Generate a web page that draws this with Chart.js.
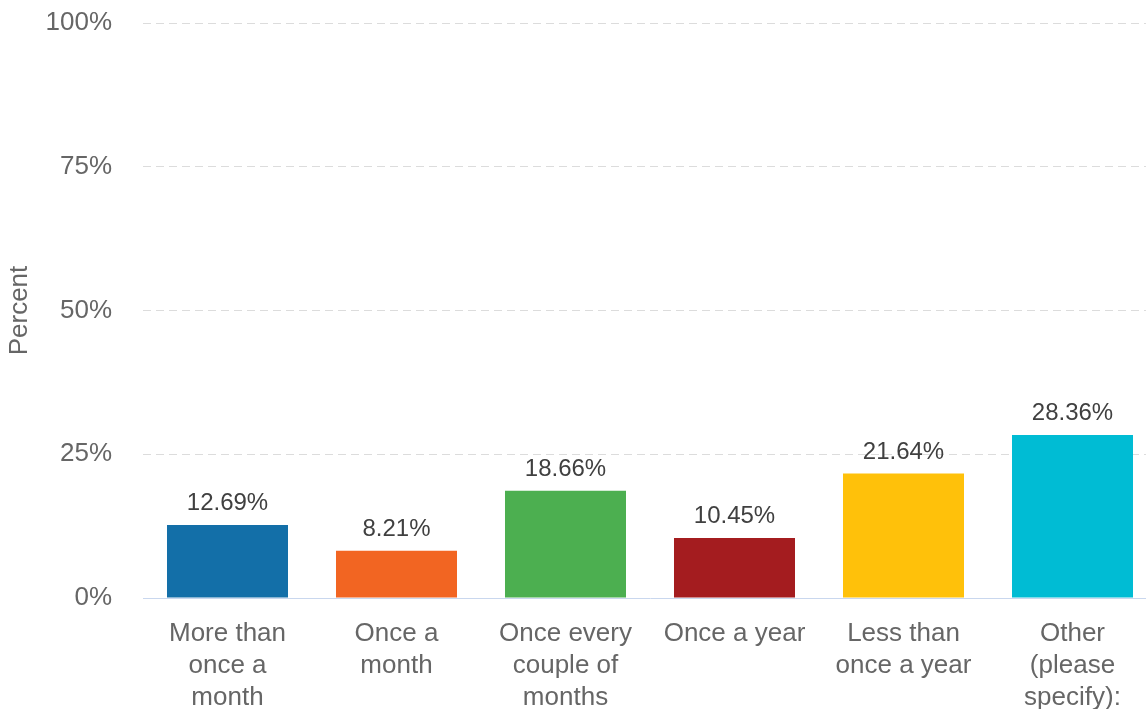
<!DOCTYPE html>
<html>
<head>
<meta charset="utf-8">
<script src="https://cdn.jsdelivr.net/npm/chart.js@4/dist/chart.umd.min.js"></script>
<style>
  html, body { margin: 0; padding: 0; background: #fff; overflow: hidden; }
  #wrap { width: 1146px; height: 709px; overflow: hidden; }
</style>
</head>
<body>
<div id="wrap"><canvas id="barChart" width="1157" height="709"></canvas></div>
<script>
// data
var categories = [
  ["More than", "once a", "month"],
  ["Once a", "month"],
  ["Once every", "couple of", "months"],
  ["Once a year"],
  ["Less than", "once a year"],
  ["Other", "(please", "specify):"]
];
var percents = [12.69, 8.21, 18.66, 10.45, 21.64, 28.36];
var yTicks = [0, 25, 50, 75, 100];

var barColors = ["#136fa8", "#f26522", "#4caf50", "#a41c1f", "#ffc10a", "#00bcd4"];
var fontFamily = "'Liberation Sans', Arial, sans-serif";

// value labels above bars
var valueLabels = {
  id: "valueLabels",
  afterDatasetsDraw: function (chart) {
    var ctx = chart.ctx;
    ctx.save();
    ctx.font = "24px " + fontFamily;
    ctx.fillStyle = "#404040";
    ctx.textAlign = "center";
    ctx.textBaseline = "alphabetic";
    chart.getDatasetMeta(0).data.forEach(function (bar, i) {
      ctx.fillText(percents[i].toFixed(2) + "%", bar.x, bar.y - 15);
    });
    ctx.restore();
  }
};

var ctx = document.getElementById("barChart");

var BarChart = new Chart(ctx, {
  type: "bar",
  data: {
    labels: categories,
    datasets: [
      {
        label: "Percent",
        data: percents,
        backgroundColor: barColors,
        barPercentage: 0.716,
        categoryPercentage: 1.0
      }
    ]
  },
  options: {
    responsive: false,
    animation: false,
    layout: { padding: { top: 23, left: 4, right: 0, bottom: 0 } },
    plugins: {
      legend: { display: false },
      tooltip: { enabled: false }
    },
    scales: {
      x: {
        grid: { display: false, drawTicks: false },
        border: { display: true, color: "#c9d7ee", width: 1 },
        ticks: {
          color: "#666",
          font: { family: fontFamily, size: 26, lineHeight: 1.23 },
          padding: 20,
          maxRotation: 0,
          autoSkip: false
        },
        afterFit: function (scale) {
          scale.height = 111;
          scale.paddingLeft = 0;
          scale.paddingRight = 0;
        }
      },
      y: {
        min: 0,
        max: 100,
        afterBuildTicks: function (scale) {
          scale.ticks = yTicks.map(function (v) { return { value: v }; });
        },
        grid: {
          drawTicks: false,
          color: function (c) { return c.tick && c.tick.value === 0 ? "rgba(0,0,0,0)" : "#dcdcdc"; },
          lineWidth: 1
        },
        border: { display: false, dash: [8, 5] },
        ticks: {
          color: "#666",
          font: { family: fontFamily, size: 26 },
          padding: 31,
          callback: function (v) { return v + "%"; }
        },
        title: {
          display: true,
          text: "Percent",
          color: "#666",
          font: { family: fontFamily, size: 26 },
          padding: 0
        },
        afterFit: function (scale) {
          scale.width = 139;
          scale.paddingTop = 0;
          scale.paddingBottom = 0;
        }
      }
    }
  },
  plugins: [valueLabels]
});
</script>
</body>
</html>
